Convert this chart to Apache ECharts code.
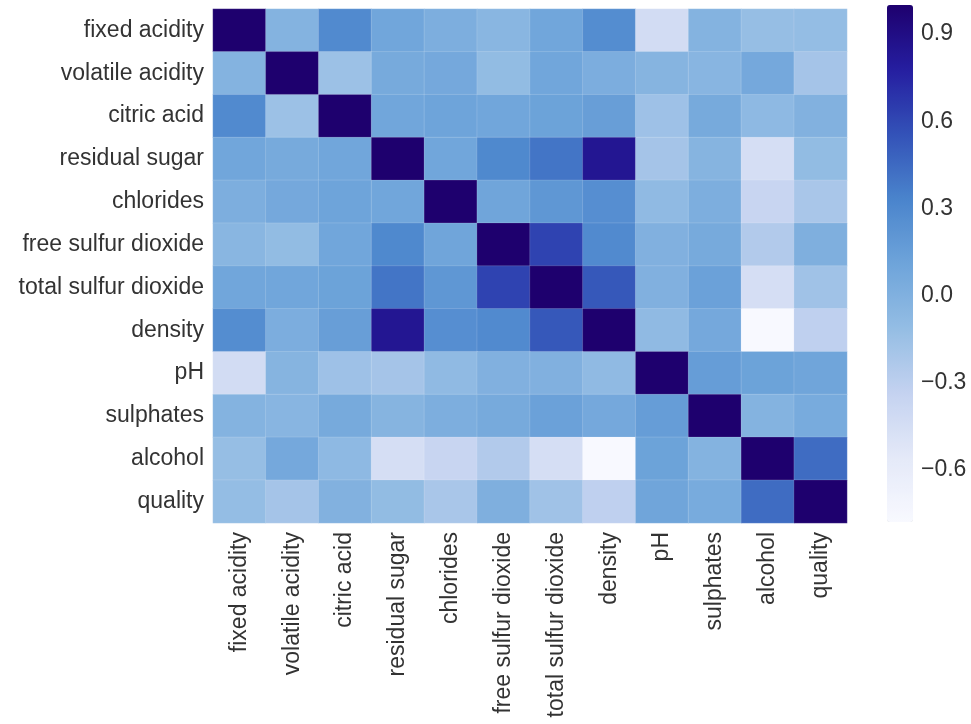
<!DOCTYPE html>
<html>
<head>
<meta charset="utf-8">
<script src="https://cdn.jsdelivr.net/npm/echarts@6/dist/echarts.min.js"></script>
<style>
html,body{margin:0;padding:0;background:#fff;}
#chart{width:971px;height:724px;}
</style>
</head>
<body>
<div id="chart"></div>
<script>
const categories = ['fixed acidity','volatile acidity','citric acid','residual sugar','chlorides','free sulfur dioxide','total sulfur dioxide','density','pH','sulphates','alcohol','quality'];

const rowFixedAcidity      = [1.00, -0.02, 0.29, 0.09, 0.02, -0.05, 0.09, 0.27, -0.43, -0.02, -0.12, -0.11];
const rowVolatileAcidity   = [-0.02, 1.00, -0.15, 0.06, 0.07, -0.10, 0.09, 0.03, -0.03, -0.04, 0.07, -0.19];
const rowCitricAcid        = [0.29, -0.15, 1.00, 0.09, 0.11, 0.09, 0.12, 0.15, -0.16, 0.06, -0.08, -0.01];
const rowResidualSugar     = [0.09, 0.06, 0.09, 1.00, 0.09, 0.30, 0.40, 0.84, -0.19, -0.03, -0.45, -0.10];
const rowChlorides         = [0.02, 0.07, 0.11, 0.09, 1.00, 0.10, 0.20, 0.26, -0.09, 0.02, -0.36, -0.21];
const rowFreeSulfur        = [-0.05, -0.10, 0.09, 0.30, 0.10, 1.00, 0.62, 0.29, 0.00, 0.06, -0.25, 0.01];
const rowTotalSulfur       = [0.09, 0.09, 0.12, 0.40, 0.20, 0.62, 1.00, 0.53, 0.00, 0.13, -0.45, -0.17];
const rowDensity           = [0.27, 0.03, 0.15, 0.84, 0.26, 0.29, 0.53, 1.00, -0.09, 0.07, -0.78, -0.31];
const rowPH                = [-0.43, -0.03, -0.16, -0.19, -0.09, 0.00, 0.00, -0.09, 1.00, 0.16, 0.12, 0.10];
const rowSulphates         = [-0.02, -0.04, 0.06, -0.03, 0.02, 0.06, 0.13, 0.07, 0.16, 1.00, -0.02, 0.05];
const rowAlcohol           = [-0.12, 0.07, -0.08, -0.45, -0.36, -0.25, -0.45, -0.78, 0.12, -0.02, 1.00, 0.44];
const rowQuality           = [-0.11, -0.19, -0.01, -0.10, -0.21, 0.01, -0.17, -0.31, 0.10, 0.05, 0.44, 1.00];

const colorbarTicks = [-0.6, -0.3, 0.0, 0.3, 0.6, 0.9];
const colorMin = -0.78, colorMax = 1.0;

const rows = [rowFixedAcidity,rowVolatileAcidity,rowCitricAcid,rowResidualSugar,rowChlorides,rowFreeSulfur,rowTotalSulfur,rowDensity,rowPH,rowSulphates,rowAlcohol,rowQuality];
const data = [];
rows.forEach((r, yi) => r.forEach((v, xi) => data.push([xi, yi, v])));

const FONT = 'Liberation Sans, Arial, sans-serif';
const chart = echarts.init(document.getElementById('chart'), null, {renderer:'canvas'});
chart.setOption({
  animation:false,
  backgroundColor:'#ffffff',
  grid:[
    {left:213, top:9, width:634, height:514},
    {left:887, top:5, width:26, height:517}
  ],
  xAxis:[
    {type:'category', gridIndex:0, data:categories, axisLine:{show:false}, axisTick:{show:false}, splitLine:{show:false},
     axisLabel:{rotate:90, interval:0, margin:9, fontSize:23, color:'#333', fontFamily:FONT}},
    {type:'value', gridIndex:1, show:false, min:0, max:1}
  ],
  yAxis:[
    {type:'category', gridIndex:0, data:categories, inverse:true, axisLine:{show:false}, axisTick:{show:false}, splitLine:{show:false},
     axisLabel:{interval:0, margin:9, fontSize:23, color:'#333', fontFamily:FONT}},
    {type:'value', gridIndex:1, position:'right', min:colorMin, max:colorMax,
     axisLine:{show:false}, axisTick:{show:false}, splitLine:{show:false},
     axisLabel:{customValues:colorbarTicks, margin:8, fontSize:23, color:'#333', fontFamily:FONT,
       formatter:v => (v < 0 ? '\u2212' + Math.abs(v).toFixed(1) : v.toFixed(1))}}
  ],
  visualMap:{
    type:'continuous', min:colorMin, max:colorMax, calculable:false, seriesIndex:0,
    left:887, top:5, itemWidth:26, itemHeight:517, padding:0, text:['',''], showLabel:false,
    inRange:{color:['#f8f9ff','#e4e9f8','#c4d2f0','#94bde4','#6ea4da','#4a84cc','#3352b8','#251ea0','#1e006e']}
  },
  series:[{
    type:'heatmap', xAxisIndex:0, yAxisIndex:0, data:data,
    itemStyle:{borderWidth:0.6, borderColor:'rgba(255,255,255,0.25)'}, emphasis:{disabled:true}
  }]
});
</script>
</body>
</html>
